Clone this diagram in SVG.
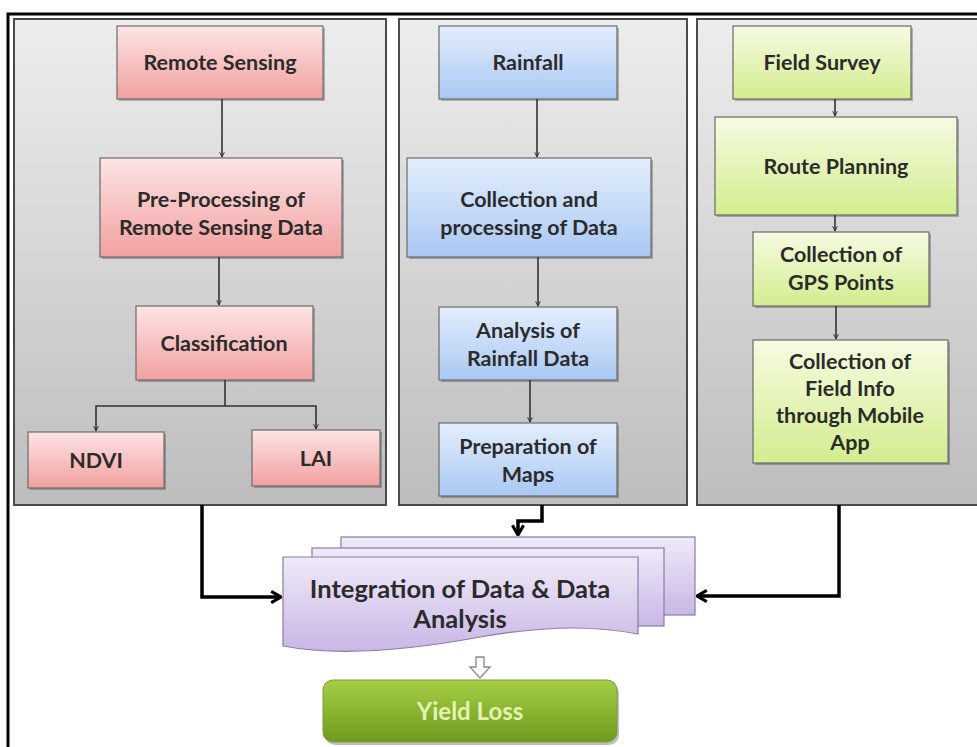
<svg xmlns="http://www.w3.org/2000/svg" width="977" height="747" viewBox="0 0 977 747">
<style>
.t{font-family:Lato,"Open Sans","Liberation Sans",sans-serif;font-weight:700;font-size:21.5px;fill:#2b2b2b;text-anchor:middle}
.big{font-size:25.5px}
.yl{fill:#e4f3b4;font-size:24px}
.panel{stroke:#4a4a4a;stroke-width:2;fill:url(#gPanel)}
.box{stroke:#6b6b6b;stroke-width:1.2}
.red{fill:url(#gRed)}
.blue{fill:url(#gBlue)}
.green{fill:url(#gGreen)}
.purple{fill:url(#gPurple);stroke:#8a7ca6;stroke-width:1.2}
.sh{fill:#000;opacity:0.25}
.thin{fill:none;stroke:#333;stroke-width:1.6;marker-end:url(#mThin)}
.thick{fill:none;stroke:#000;stroke-width:3.5;marker-end:url(#mThick)}
</style>
<defs>
<linearGradient id="gPanel" x1="0" y1="0" x2="0" y2="1"><stop offset="0" stop-color="#ededed"/><stop offset="1" stop-color="#bdbdbd"/></linearGradient>
<linearGradient id="gRed" x1="0" y1="0" x2="0" y2="1"><stop offset="0" stop-color="#fde4e4"/><stop offset="1" stop-color="#f2a0a0"/></linearGradient>
<linearGradient id="gBlue" x1="0" y1="0" x2="0" y2="1"><stop offset="0" stop-color="#e4eefc"/><stop offset="1" stop-color="#a9c8f3"/></linearGradient>
<linearGradient id="gGreen" x1="0" y1="0" x2="0" y2="1"><stop offset="0" stop-color="#f6fbe2"/><stop offset="1" stop-color="#d3ed8f"/></linearGradient>
<linearGradient id="gPurple" x1="0" y1="0" x2="0" y2="1"><stop offset="0" stop-color="#f0eaf8"/><stop offset="1" stop-color="#c9b7e6"/></linearGradient>
<linearGradient id="gYield" x1="0" y1="0" x2="0" y2="1"><stop offset="0" stop-color="#a6cf45"/><stop offset="1" stop-color="#6e9a1e"/></linearGradient>
<marker id="mThin" viewBox="0 0 10 10" refX="9" refY="5" markerWidth="6" markerHeight="6" markerUnits="userSpaceOnUse" orient="auto"><path d="M1,1 L9,5 L1,9" fill="none" stroke="#333" stroke-width="1.6"/></marker>
<marker id="mThick" viewBox="0 0 10 10" refX="9" refY="5" markerWidth="14" markerHeight="14" markerUnits="userSpaceOnUse" orient="auto"><path d="M2,1 L9,5 L2,9" fill="none" stroke="#000" stroke-width="2.2"/></marker>
</defs>
<rect width="977" height="747" fill="#fff"/>
<path d="M8,747 V14 H977" fill="none" stroke="#000" stroke-width="3"/>

<g id="panel1"><rect class="panel" x="14" y="19" width="372" height="486"/></g>
<g id="panel2"><rect class="panel" x="399" y="19" width="288" height="486"/></g>
<g id="panel3"><rect class="panel" x="697" y="19" width="300" height="486"/></g>

<g id="remote-sensing"><rect class="sh" x="119" y="28" width="206" height="73"/><rect class="box red" x="117" y="26" width="206" height="73"/><text class="t" x="220" y="70">Remote Sensing</text></g>
<g id="pre-processing"><rect class="sh" x="102" y="160" width="242" height="99"/><rect class="box red" x="100" y="158" width="242" height="99"/><text class="t" x="221" y="207">Pre-Processing of</text><text class="t" x="221" y="235">Remote Sensing Data</text></g>
<g id="classification"><rect class="sh" x="138" y="308" width="177" height="74"/><rect class="box red" x="136" y="306" width="177" height="74"/><text class="t" x="224" y="351">Classification</text></g>
<g id="ndvi"><rect class="sh" x="30" y="434" width="136" height="56"/><rect class="box red" x="28" y="432" width="136" height="56"/><text class="t" x="96" y="468">NDVI</text></g>
<g id="lai"><rect class="sh" x="254" y="432" width="128" height="56"/><rect class="box red" x="252" y="430" width="128" height="56"/><text class="t" x="316" y="466">LAI</text></g>

<g id="rainfall"><rect class="sh" x="441" y="28" width="178" height="73"/><rect class="box blue" x="439" y="26" width="178" height="73"/><text class="t" x="528" y="70">Rainfall</text></g>
<g id="collection-processing"><rect class="sh" x="409" y="160" width="244" height="99"/><rect class="box blue" x="407" y="158" width="244" height="99"/><text class="t" x="529" y="207">Collection and</text><text class="t" x="529" y="235">processing of Data</text></g>
<g id="analysis-rainfall"><rect class="sh" x="441" y="309" width="178" height="73"/><rect class="box blue" x="439" y="307" width="178" height="73"/><text class="t" x="528" y="338">Analysis of</text><text class="t" x="528" y="366">Rainfall Data</text></g>
<g id="preparation-maps"><rect class="sh" x="441" y="425" width="178" height="73"/><rect class="box blue" x="439" y="423" width="178" height="73"/><text class="t" x="528" y="454">Preparation of</text><text class="t" x="528" y="482">Maps</text></g>

<g id="field-survey"><rect class="sh" x="735" y="28" width="178" height="73"/><rect class="box green" x="733" y="26" width="178" height="73"/><text class="t" x="822" y="70">Field Survey</text></g>
<g id="route-planning"><rect class="sh" x="717" y="119" width="242" height="98"/><rect class="box green" x="715" y="117" width="242" height="98"/><text class="t" x="836" y="174">Route Planning</text></g>
<g id="gps-points"><rect class="sh" x="755" y="234" width="176" height="74"/><rect class="box green" x="753" y="232" width="176" height="74"/><text class="t" x="841" y="262">Collection of</text><text class="t" x="841" y="290">GPS Points</text></g>
<g id="field-info"><rect class="sh" x="755" y="342" width="195" height="123"/><rect class="box green" x="753" y="340" width="195" height="123"/><text class="t" x="850" y="369">Collection of</text><text class="t" x="850" y="396">Field Info</text><text class="t" x="850" y="423">through Mobile</text><text class="t" x="850" y="450">App</text></g>

<g id="integration">
<rect class="purple" x="341" y="537" width="354" height="78"/>
<rect class="purple" x="312" y="548" width="352" height="78"/>
<path class="purple" d="M283,557 H638 V634 C600,627 555,624 480,637 C405,651 335,656 283,646 Z"/>
<text class="t big" x="460" y="598">Integration of Data &amp; Data</text>
<text class="t big" x="460" y="628">Analysis</text>
</g>
<g id="yield-loss"><rect x="325" y="683" width="294" height="62" rx="10" fill="#000" opacity="0.25"/><rect x="323" y="680" width="294" height="62" rx="10" fill="url(#gYield)" stroke="#7d9c3a" stroke-width="1"/><text class="t yl" x="470" y="720">Yield Loss</text></g>

<g id="connectors">
<path class="thin" d="M222,99 V157"/>
<path class="thin" d="M219,257 V305"/>
<path class="thin" d="M225,380 V406 M225,406 H96 V431"/>
<path class="thin" d="M225,406 H316 V429"/>
<path class="thin" d="M537,99 V157"/>
<path class="thin" d="M538,257 V306"/>
<path class="thin" d="M530,380 V422"/>
<path class="thin" d="M835,99 V116"/>
<path class="thin" d="M835,215 V231"/>
<path class="thin" d="M836,306 V339"/>
<path class="thick" d="M202,505 V597 H281"/>
<path class="thick" d="M542,505 V521 H518 V535"/>
<path class="thick" d="M839,505 V596 H697"/>
<polygon points="476,657 484,657 484,667 490,667 480,678 470,667 476,667" fill="#fff" stroke="#8a8a8a" stroke-width="1.3"/>
</g>
</svg>
